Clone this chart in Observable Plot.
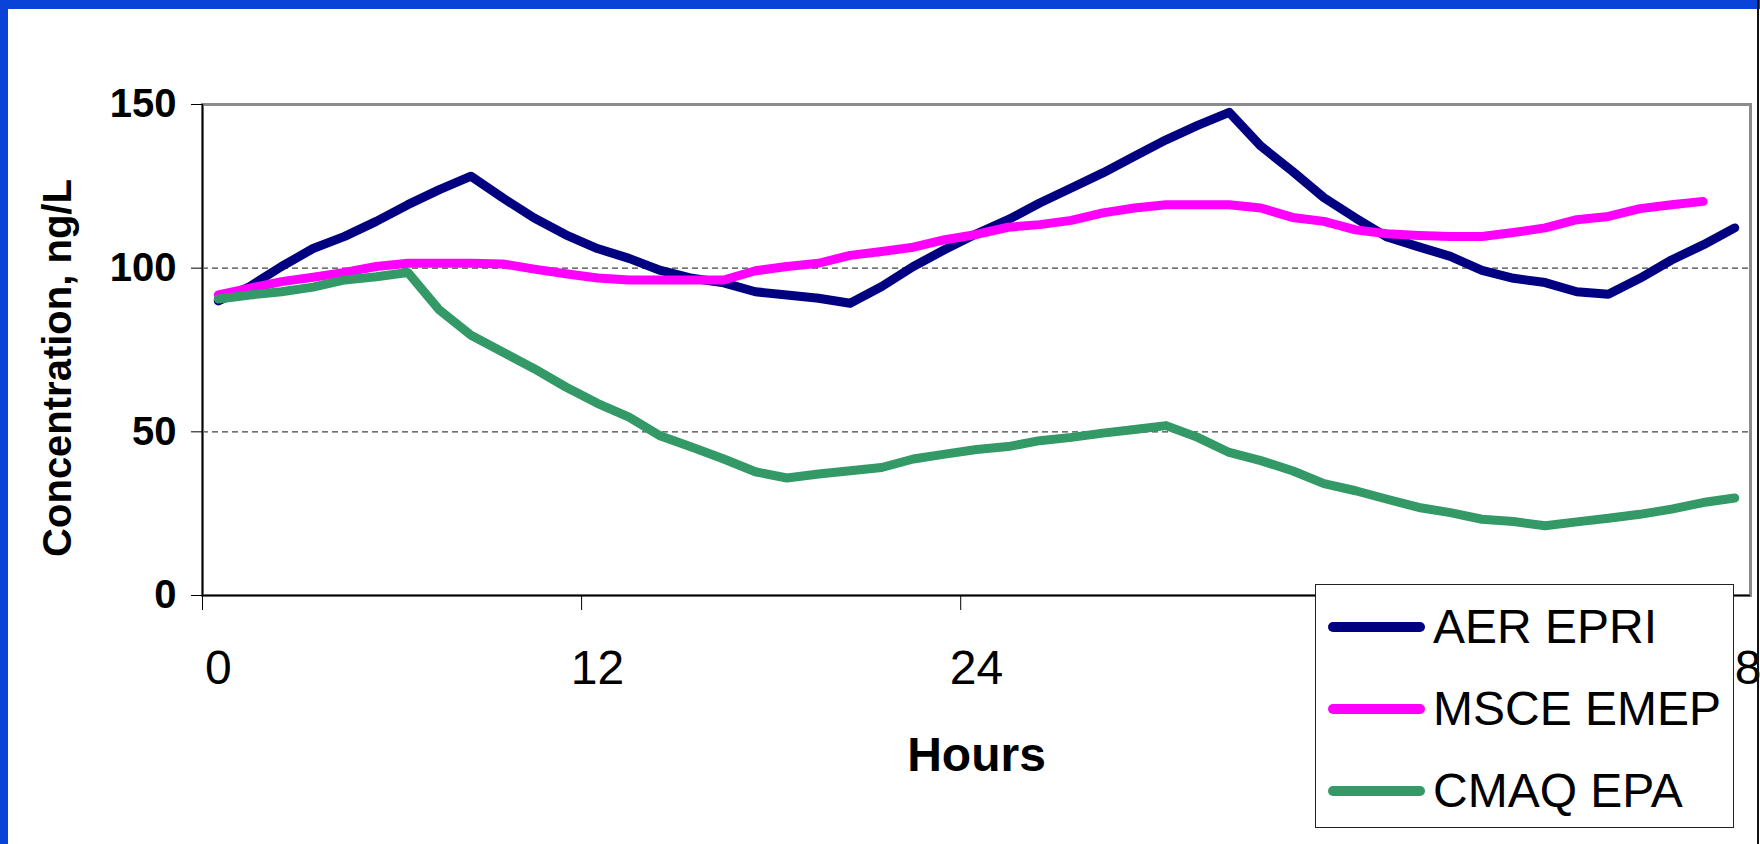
<!DOCTYPE html>
<html>
<head>
<meta charset="utf-8">
<script src="https://cdn.jsdelivr.net/npm/d3@7"></script>
<script src="https://cdn.jsdelivr.net/npm/@observablehq/plot@0.6"></script>
<style>
  html, body { margin: 0; padding: 0; background: #ffffff; }
  #wrap { position: relative; width: 1760px; height: 844px; overflow: hidden; background: #ffffff;
          font-family: 'Liberation Sans', Arial, sans-serif; }
  #topbar { position: absolute; left: 0; top: 0; width: 1760px; height: 9px; background: #0a43d8; }
  #leftbar { position: absolute; left: 0; top: 0; width: 8px; height: 844px; background: #0a43d8; }
  #rightline { position: absolute; left: 1757px; top: 0; width: 2px; height: 844px; background: #111; }
  #chart { position: absolute; left: 0; top: 0; }
  #legend { position: absolute; left: 1315px; top: 584px; width: 419px; height: 244px; box-sizing: border-box;
            border: 1.5px solid #222; background: #fff; }
  .row { position: absolute; left: 0; height: 60px; width: 100%; }
  .swatch { position: absolute; left: 12px; top: 25px; width: 97px; height: 10px; border-radius: 5px; }
  .lab { position: absolute; left: 117px; top: 0; line-height: 60px; font-size: 48px; color: #000; white-space: nowrap; }
</style>
</head>
<body>
<div id="wrap">
  <div id="chart"></div>
  <div id="topbar"></div>
  <div id="leftbar"></div>
  <div id="rightline"></div>
  <div id="legend"></div>
</div>
<script>
// ---- data ----
const hours = [0,1,2,3,4,5,6,7,8,9,10,11,12,13,14,15,16,17,18,19,20,21,22,23,24,25,26,27,28,29,30,31,32,33,34,35,36,37,38,39,40,41,42,43,44,45,46,47,48];

const aerEpri = [90, 94.4, 100.5, 106, 109.7, 114.3, 119.4, 124, 128.1, 121.5,
                 115.3, 110.2, 106, 103, 99.3, 96.9, 95.5, 92.8, 91.8, 90.8,
                 89.3, 94.4, 100.5, 105.7, 110.5, 114.8, 119.9, 124.5, 129.1, 134.2,
                 139.2, 143.6, 147.6, 137.3, 129.6, 121.5, 115.3, 109.5, 106.5, 103.6,
                 99.3, 96.9, 95.6, 92.8, 92, 96.9, 102.5, 107.1, 112.3];

const msceEmep = [91.8, 93.9, 95.9, 97.2, 98.7, 100.5, 101.5, 101.5, 101.5, 101.3,
                  99.7, 98.3, 97, 96.4, 96.4, 96.4, 96.4, 99.2, 100.5, 101.5,
                  103.9, 105.1, 106.4, 108.7, 110.3, 112.5, 113.3, 114.6, 116.9, 118.4,
                  119.4, 119.4, 119.4, 118.4, 115.5, 114.3, 111.7, 110.5, 110, 109.7,
                  109.7, 110.9, 112.3, 114.8, 115.8, 118.2, 119.4, 120.4];

const cmaqEpa = [90.6, 91.8, 92.8, 94.2, 96.4, 97.4, 98.7, 87.2, 79.5, 74.4,
                 69.3, 63.7, 58.7, 54.5, 48.7, 45.3, 41.7, 37.8, 35.9, 37.1,
                 38.1, 39.1, 41.7, 43.2, 44.6, 45.5, 47.3, 48.3, 49.6, 50.7,
                 51.9, 48.3, 43.7, 41.2, 38.1, 34.2, 32, 29.4, 26.9, 25.3,
                 23.3, 22.6, 21.3, 22.5, 23.6, 24.8, 26.4, 28.4, 29.8];

const seriesNames = ["AER EPRI", "MSCE EMEP", "CMAQ EPA"];
const seriesColors = ["#000080", "#ff00ff", "#339966"];

const xTickValues = [0, 12, 24, 36, 48];
const xTickLabels = ["0", "12", "24", "36", "48"];
const xTickBoundaries = [-0.5, 11.5, 23.5, 35.5, 47.5];
const yTickValues = [0, 50, 100, 150];
const yGridValues = [50, 100];

const xTitle = "Hours";
const yTitle = "Concentration, ng/L";

// ---- build table ----
const seriesValues = [aerEpri, msceEmep, cmaqEpa];
const rows = [];
seriesValues.forEach((vals, i) => vals.forEach((v, j) => rows.push({hour: hours[j], value: v, series: seriesNames[i]})));

const chart = Plot.plot({
  width: 1760,
  height: 844,
  marginLeft: 202,
  marginRight: 10,
  marginTop: 104,
  marginBottom: 249,
  x: {domain: [-0.5, 48.5]},
  y: {domain: [0, 150]},
  color: {domain: seriesNames, range: seriesColors},
  style: {fontFamily: "'Liberation Sans', Arial, sans-serif", background: "transparent", overflow: "visible"},
  marks: [
    Plot.ruleY(yGridValues, {stroke: "#444", strokeWidth: 1.2, strokeDasharray: "6,4"}),
    Plot.frame({stroke: "#8c8c8c", strokeWidth: 3}),
    Plot.ruleX([-0.5], {stroke: "#000", strokeWidth: 1.5}),
    Plot.ruleY([0], {stroke: "#000", strokeWidth: 1.5}),
    Plot.axisY({ticks: yTickValues, tickSize: 11, tickPadding: 15, fontSize: 40, fontWeight: "bold", label: null}),
    Plot.axisX({ticks: xTickBoundaries, tickSize: 15, tickFormat: () => "", label: null}),
    Plot.axisX({ticks: xTickValues, tickSize: 0, tickPadding: 54, fontSize: 48, label: null,
                tickFormat: d => xTickLabels[xTickValues.indexOf(d)]}),
    Plot.line(rows, {x: "hour", y: "value", z: "series", stroke: "series", strokeWidth: 9,
                     strokeLinecap: "round", strokeLinejoin: "round"}),
    Plot.text([xTitle], {frameAnchor: "bottom", textAnchor: "middle", lineAnchor: "middle",
                         dy: 160, fontSize: 48, fontWeight: "bold"}),
    Plot.text([yTitle], {frameAnchor: "left", textAnchor: "middle", lineAnchor: "middle",
                         rotate: -90, dx: -144, dy: 18, fontSize: 40, fontWeight: "bold"})
  ]
});
document.getElementById("chart").appendChild(chart);

// ---- legend ----
const legend = document.getElementById("legend");
seriesNames.forEach((name, i) => {
  const row = document.createElement("div");
  row.className = "row";
  row.style.top = (12 + i * 82) + "px";
  const sw = document.createElement("div");
  sw.className = "swatch";
  sw.style.background = chart.scale("color").apply(name);
  const lab = document.createElement("div");
  lab.className = "lab";
  lab.textContent = name;
  row.appendChild(sw);
  row.appendChild(lab);
  legend.appendChild(row);
});
</script>
</body>
</html>
